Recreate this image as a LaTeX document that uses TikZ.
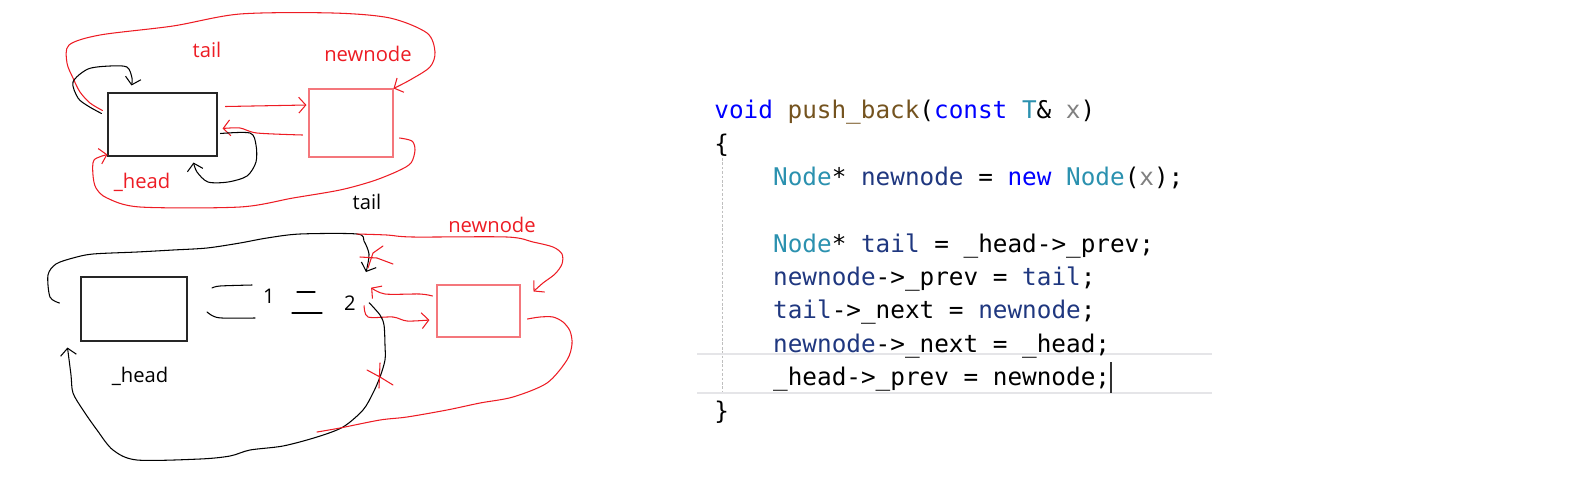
\documentclass[tikz,border=0pt]{standalone}
\usepackage{fontspec}
\usepackage{xcolor}
\usetikzlibrary{arrows.meta,calc}
\newfontfamily\handfont{Open Sans}
\newfontfamily\codefont{DejaVu Sans Mono}
\definecolor{pen}{RGB}{237,28,36}
\definecolor{kwblue}{RGB}{0,0,255}
\definecolor{fnbrown}{RGB}{116,83,31}
\definecolor{tyteal}{RGB}{43,145,175}
\definecolor{pargray}{RGB}{128,128,128}
\definecolor{varnavy}{RGB}{31,55,127}
\newcommand\ckw[1]{\textcolor{kwblue}{#1}}
\newcommand\cfn[1]{\textcolor{fnbrown}{#1}}
\newcommand\cty[1]{\textcolor{tyteal}{#1}}
\newcommand\cpar[1]{\textcolor{pargray}{#1}}
\newcommand\cvar[1]{\textcolor{varnavy}{#1}}

\begin{document}
\begin{tikzpicture}[x=0.02cm,y=-0.02cm,
  nodebox/.style={draw=black!85,line width=0.6pt,inner sep=0pt},
  newbox/.style={draw=pen!60,line width=0.6pt,inner sep=0pt},
  lbl/.style={font=\handfont\fontsize{11.5}{14}\selectfont,anchor=base,inner sep=0pt},
  codeline/.style={font=\codefont\fontsize{13.85}{16}\selectfont,anchor=base west,inner sep=0pt},
  ink/.style={line width=0.6pt,line cap=round,line join=round},
  redink/.style={ink,draw=pen},
  >={Straight Barb[length=4pt,width=9pt]}]
\useasboundingbox (0,0) rectangle (1576,498);

\node[nodebox,minimum width=2.18cm,minimum height=1.26cm] (h1) at (162.5,124.5) {};
\node[newbox,minimum width=1.68cm,minimum height=1.36cm] (n1) at (351,123) {};
\node[lbl,pen] (tailr) at (207,57) {tail};
\node[lbl,pen] (newr) at (368,61) {newnode};
\node[lbl,pen] (headr) at (142,188) {\_head};
\node[lbl] (tailk) at (367,209) {tail};

\draw[redink,->] plot[smooth] coordinates {($(h1.west)+(-5,-14)$) (90,103) (80,92) (73,78) (67,63) (69,45) (100,35) (173,26) (240,14) (333,13) (390,18) (427,33) (435,52) (430,67) (410,80) (n1.north east)};
\draw[ink,->] plot[smooth] coordinates {($(h1.west)+(-6,-11)$) (88,106) (78,98) (73,82) (88,69) (110,66) (127,67) (132,78) ($(h1.north west)+(24,-7)$)};
\draw[redink,->] ($(h1.east)+(8,-18)$) -- ($(n1.west)+(-2,-18)$);
\draw[redink,->] plot[smooth] coordinates {($(n1.west)+(-6,12)$) (257,133) (240,128) ($(h1.east)+(5,4)$)};
\draw[ink,->] plot[smooth] coordinates {($(h1.east)+(3,9)$) (250,133) (256,145) (256,162) (247,176) (228,182) (208,182) (197,172) ($(h1.south)+(31,6)$)};
\draw[redink,->] plot[smooth] coordinates {($(n1.east)+(6,15)$) (412,141) (415,150) (411,163) (398,171) (373,181) (340,190) (293,198) (240,207) (140,207) (107,198) (96,188) (93,175) (94,160) ($(h1.south west)+(0,-2)$)};

\node[nodebox,minimum width=2.12cm,minimum height=1.28cm] (h2) at (134,309) {};
\node[newbox,minimum width=1.66cm,minimum height=1.04cm] (n2) at (478.5,311) {};
\node[lbl] (one) at (269,303) {1};
\node[lbl] (two) at (350,310) {2};
\node[lbl] (headk) at (140,382) {\_head};
\node[lbl,pen] (newb) at (492,232) {newnode};
\coordinate (fork) at (357,234);

\draw[ink,->] plot[smooth] coordinates {($(h2.west)+(-21,-6)$) (50,297) (48,275) (56,264) (73,258) (93,254) (137,252) (173,250) (207,248) (240,243) (267,238) (300,234) (fork) (364,241) (369,254) (367,268) ($(two.north)+(16,-23)$)};
\draw[redink,->] plot[smooth] coordinates {(fork) (387,235) (413,237) (507,237) (533,242) (553,247) (562,254) (562,264) (555,274) (543,283) ($(n2.north east)+(13,7)$)};
\draw[redink,->] plot[smooth] coordinates {($(n2.west)+(-4,-15)$) (420,294) (385,294) ($(two.east)+(15,-15)$)};
\draw[redink,->] plot[smooth] coordinates {($(two.east)+(8,3)$) (368,317) (393,317) (407,321) ($(n2.west)+(-7,9)$)};
\draw[ink,->] plot[smooth] coordinates {($(two.east)+(13,0)$) (380,315) (384,325) (385,345) (385,360) (380,377) (373,393) (363,410) (343,427) (317,437) (283,446) (250,450) (230,456) (200,459) (137,460) (113,450) (97,430) (83,410) (73,393) (71,375) ($(h2.south west)+(-13,6)$)};
\draw[redink] plot[smooth] coordinates {($(n2.east)+(7,8)$) (540,317) (553,317) (563,322) (570,331) (572,344) (567,360) (547,383) (513,397) (480,403) (447,410) (407,417) (380,420) (340,428) (317,432)};
\draw[redink] (360,257) -- (377,258) -- (393,264) (383,246) -- (373,253) -- (368,268);
\draw[redink] (367,370) -- (380,377) -- (393,385) (380,363) -- (379,388);
\draw[ink] plot[smooth] coordinates {(212,288) (220,286) (252,285)};
\draw[ink] plot[smooth] coordinates {(207,312) (213,316) (222,318) (255,318)};
\draw[ink] (297,292) -- (315,292) (292,313) -- (322,313);

\draw[black!25,line width=0.5pt,dash pattern=on 1.5pt off 1pt] (722,158) -- (722,393);
\draw[blue!8!black!10,line width=1.2pt] (697,354) -- (1212,354) (697,393) -- (1212,393);
\foreach \yy/\xx/\txt in {118/0/{\ckw{void} \cfn{push\_back}(\ckw{const} \cty{T}\& \cpar{x})},
  152/0/{\{},
  185/4/{\cty{Node}* \cvar{newnode} = \ckw{new} \cty{Node}(\cpar{x});},
  252/4/{\cty{Node}* \cvar{tail} = \_head->\_prev;},
  285/4/{\cvar{newnode}->\_prev = \cvar{tail};},
  318/4/{\cvar{tail}->\_next = \cvar{newnode};},
  352/4/{\cvar{newnode}->\_next = \_head;},
  385/4/{\_head->\_prev = newnode;},
  419/0/{\}}}
  {\node[codeline] at (714+14.7*\xx,\yy) {\txt};}
\draw[black!80,line width=0.6pt] (1111,362) -- (1111,393);
\end{tikzpicture}
\end{document}
